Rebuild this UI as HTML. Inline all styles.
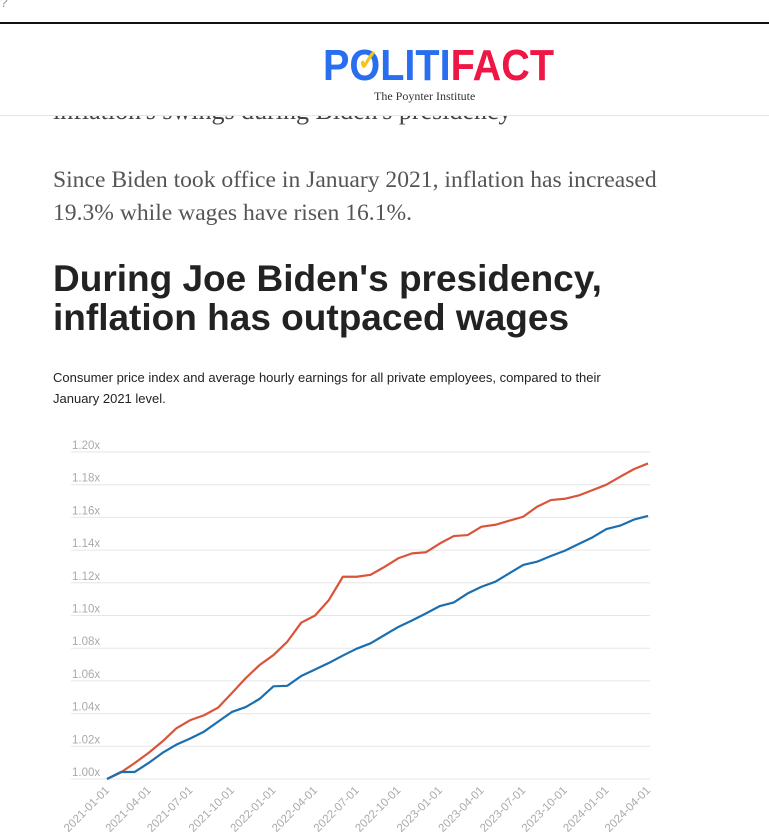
<!DOCTYPE html>
<html><head><meta charset="utf-8"><style>
body{margin:0;width:769px;height:840px;overflow:hidden;background:#fff;position:relative;font-family:"Liberation Sans",sans-serif}
.abs{position:absolute;white-space:nowrap}
</style></head><body>
<div class="abs" style="left:0;top:-6px;color:#999;font-size:14px">?</div>
<div class="abs" style="left:0;top:22px;width:769px;height:2px;background:#111"></div>
<div class="abs" style="left:53px;top:96px;font-family:'Liberation Serif',serif;font-size:26px;color:#444">inflation's swings during Biden's presidency</div>
<div class="abs" style="left:0;top:24px;width:769px;height:91px;background:#fff;border-bottom:1px solid #e6e6e6;z-index:2">
  <div class="abs" style="left:323px;top:20px;font-size:44px;font-weight:bold;line-height:44px;transform:scaleX(0.9);transform-origin:0 0"><span style="color:#2a6ef0">P<span style="position:relative">O<span style="position:absolute;left:9px;top:-2px;color:#f5c518;font-size:28px">✓</span></span>LITI</span><span style="color:#ee1644">FACT</span></div>
  <div class="abs" style="left:374px;top:65px;font-family:'Liberation Serif',serif;font-size:12px;color:#333">The Poynter Institute</div>
</div>
<div class="abs" style="left:53px;top:164px;font-family:'Liberation Serif',serif;font-size:23.6px;line-height:33px;color:#555">Since Biden took office in January 2021, inflation has increased<br>19.3% while wages have risen 16.1%.</div>
<div class="abs" style="left:53px;top:259px;font-size:37px;font-weight:bold;line-height:39px;color:#222">During Joe Biden's presidency,<br>inflation has outpaced wages</div>
<div class="abs" style="left:53px;top:367px;font-size:13px;line-height:21px;color:#222">Consumer price index and average hourly earnings for all private employees, compared to their<br>January 2021 level.</div>
<svg id="chart" width="769" height="840" style="position:absolute;left:0;top:0"></svg>
<script>
const months=["2021-01-01","2021-02-01","2021-03-01","2021-04-01","2021-05-01","2021-06-01","2021-07-01","2021-08-01","2021-09-01","2021-10-01","2021-11-01","2021-12-01","2022-01-01","2022-02-01","2022-03-01","2022-04-01","2022-05-01","2022-06-01","2022-07-01","2022-08-01","2022-09-01","2022-10-01","2022-11-01","2022-12-01","2023-01-01","2023-02-01","2023-03-01","2023-04-01","2023-05-01","2023-06-01","2023-07-01","2023-08-01","2023-09-01","2023-10-01","2023-11-01","2023-12-01","2024-01-01","2024-02-01","2024-03-01","2024-04-01"];
const cpi=[1.000,1.004,1.0098,1.016,1.023,1.031,1.036,1.039,1.0436,1.0525,1.0617,1.0697,1.0758,1.084,1.0956,1.100,1.1095,1.1237,1.1237,1.1249,1.1297,1.135,1.138,1.1387,1.1441,1.1486,1.1492,1.1543,1.1555,1.158,1.1604,1.1665,1.1706,1.1714,1.1734,1.1767,1.180,1.1849,1.1896,1.193];
const wages=[1.000,1.0043,1.0043,1.0098,1.016,1.021,1.0248,1.029,1.035,1.041,1.044,1.049,1.0567,1.057,1.063,1.067,1.071,1.0755,1.0797,1.083,1.088,1.093,1.097,1.1013,1.1058,1.108,1.1135,1.1176,1.1207,1.1258,1.1309,1.1329,1.1364,1.1396,1.1437,1.1478,1.1529,1.155,1.1587,1.1609];
const yTicks=[1.00,1.02,1.04,1.06,1.08,1.10,1.12,1.14,1.16,1.18,1.20];
const xTickLabels=["2021-01-01","2021-04-01","2021-07-01","2021-10-01","2022-01-01","2022-04-01","2022-07-01","2022-10-01","2023-01-01","2023-04-01","2023-07-01","2023-10-01","2024-01-01","2024-04-01"];
const svg=document.getElementById('chart');const NS='http://www.w3.org/2000/svg';
const x0=107,x1=648,yb=779,yt=452;
const xs=i=>x0+(x1-x0)*i/(months.length-1);
const ys=v=>yb-(v-1.0)/(0.2)*(yb-yt);
function mk(t,a){const e=document.createElementNS(NS,t);for(const k in a)e.setAttribute(k,a[k]);svg.appendChild(e);return e;}
yTicks.forEach(v=>{
  const l=mk('line',{x1:71,x2:650,y1:ys(v),y2:ys(v),stroke:'#e6e6e6','stroke-width':1});
  
  
  const t=mk('text',{x:72,y:ys(v)-3,'font-size':11.5,fill:'#aaa','font-family':'Liberation Sans, sans-serif'});
  t.textContent=v.toFixed(2)+'x';
  
  
});
xTickLabels.forEach(lbl=>{
  const i=months.indexOf(lbl);const x=xs(i);
  const t=mk('text',{x:x+3,y:791,'font-size':11.5,fill:'#aaa','text-anchor':'end','font-family':'Liberation Sans, sans-serif',transform:`rotate(-45 ${x+3} 791)`});
  t.textContent=lbl;
  
  
});
function series(arr,col,name){
  const p=mk('polyline',{points:arr.map((v,i)=>xs(i)+','+ys(v)).join(' '),fill:'none',stroke:col,'stroke-width':2.2,'stroke-linejoin':'round'});
  
  
}
series(cpi,'#d9553a','cpi-line');
series(wages,'#1b6fb0','wages-line');
</script>
</body></html>
